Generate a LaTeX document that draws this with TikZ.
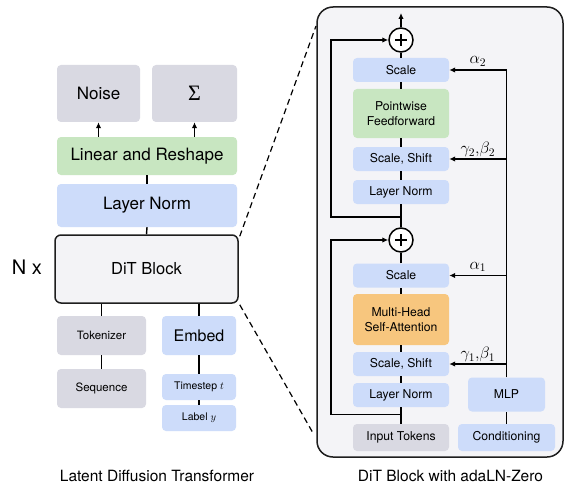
\RequirePackage{fix-cm}
\documentclass[tikz,border=0pt]{standalone}
\usepackage{fontspec}
\setmainfont{TeX Gyre Heros}
\newfontfamily\sigmafont{Liberation Serif}
\usetikzlibrary{arrows.meta}
\definecolor{cblue}{RGB}{205,220,250}
\definecolor{cgray}{RGB}{217,217,226}
\definecolor{cgreen}{RGB}{200,230,193}
\definecolor{corange}{RGB}{247,198,126}
\definecolor{cpanel}{RGB}{244,244,247}
\definecolor{cdit}{RGB}{243,243,246}
\definecolor{cedge}{RGB}{30,30,30}
\begin{document}
\begin{tikzpicture}[x=1pt,y=-1pt,
  box/.style={rounded corners=4pt, inner sep=0pt, align=center},
  bluebox/.style={box, fill=cblue},
  graybox/.style={box, fill=cgray},
  greenbox/.style={box, fill=cgreen},
  orangebox/.style={box, fill=corange},
  ditbox/.style={box, rounded corners=6pt, fill=cdit, draw=cedge, line width=1.5pt},
  bigfont/.style={font=\fontsize{17}{20}\selectfont},
  midfont/.style={font=\fontsize{11.5}{14}\selectfont},
  smallfont/.style={font=\fontsize{10.5}{12}\selectfont},
  rfont/.style={font=\fontsize{12.2}{15}\selectfont},
  capfont/.style={font=\fontsize{15.5}{18}\selectfont, inner sep=0pt},
  labfont/.style={font=\fontsize{16.5}{18}\selectfont, inner sep=1pt},
  rbox/.style={bluebox, rfont, minimum width=96pt, minimum height=24pt},
  conn/.style={line width=1.4pt, draw=black},
  rconn/.style={line width=1.6pt, draw=black},
  tip/.style={-{Latex[length=6pt,width=5.5pt]}},
  plusnode/.style={circle, draw=black, line width=1.5pt, fill=white, minimum size=24pt, inner sep=0pt,
    path picture={\draw[line width=1.5pt] ([xshift=-6pt]path picture bounding box.center) -- ([xshift=6pt]path picture bounding box.center);
                  \draw[line width=1.5pt] ([yshift=-6pt]path picture bounding box.center) -- ([yshift=6pt]path picture bounding box.center);}},
  dashline/.style={line width=1.2pt, dash pattern=on 6pt off 4pt}
]
\useasboundingbox (0,0) rectangle (567,484);
\fill[white] (0,0) rectangle (567,484);

% ---------- left: latent diffusion transformer ----------
\node[graybox, bigfont, minimum width=83pt, minimum height=57pt] (noise) at (98.5,93.5) {Noise};
\node[graybox, font=\fontsize{22}{24}\sigmafont, minimum width=85pt, minimum height=57pt] (sigma) at (194.5,93.5) {Σ};
\node[greenbox, bigfont, minimum width=180pt, minimum height=38pt] (linear) at (147,156) {Linear and Reshape};
\node[bluebox, bigfont, minimum width=180pt, minimum height=43pt] (lnL) at (147,205.5) {Layer Norm};
\node[ditbox, font=\fontsize{16.5}{19}\selectfont, minimum width=183pt, minimum height=68pt] (dit) at (146.5,269) {DiT Block};
\node[font=\fontsize{20}{23}\selectfont] (nx) at (27,267) {N x};
\node[graybox, midfont, minimum width=89pt, minimum height=39pt] (tok) at (101.5,335.5) {Tokenizer};
\node[graybox, midfont, minimum width=89pt, minimum height=39pt] (seq) at (101.5,388.5) {Sequence};
\node[bluebox, font=\fontsize{16}{19}\selectfont, minimum width=74pt, minimum height=39pt] (embed) at (199,335.5) {Embed};
\node[bluebox, smallfont, minimum width=74pt, minimum height=26pt] (ts) at (199,387) {Timestep $t$};
\node[bluebox, smallfont, minimum width=74pt, minimum height=26pt] (lab) at (199,418) {Label $y$};

\draw[conn, tip] (linear.north -| noise) -- (noise.south);
\draw[conn, tip] (linear.north -| sigma) -- (sigma.south);
\draw[conn] (linear.south) -- (lnL.north);
\draw[conn] (lnL.south) -- (dit.north);
\draw[conn] (tok.north) -- (tok.north |- dit.south);
\draw[conn] (tok.south) -- (seq.north);
\draw[conn] (embed.north) -- (embed.north |- dit.south);
\draw[conn] (embed.south) -- (ts.north);
\draw[conn] (ts.south) -- (lab.north);

\node[capfont, anchor=base] (capL) at (157,481) {Latent Diffusion Transformer};

% ---------- right: DiT block panel ----------
\node[draw=cedge, fill=cpanel, line width=1.5pt, rounded corners=16pt, minimum width=246pt, minimum height=450pt, inner sep=0pt] (panel) at (440,232) {};

\coordinate (dtop) at (316,26);
\coordinate (dbot) at (313,433);
\draw[dashline] ([shift={(1pt,-2pt)}]dit.north east) -- (dtop);
\draw[dashline] ([shift={(1pt,-1pt)}]dit.south east) -- (dbot);

\node[plusnode] (plus2) at (401,40) {};
\node[rbox] (scale2) at (401,70) {Scale};
\node[greenbox, rfont, minimum width=96pt, minimum height=49pt] (ff) at (401,113.5) {Pointwise\\Feedforward};
\node[rbox] (ss2) at (401,159) {Scale, Shift};
\node[rbox] (ln2) at (401,192) {Layer Norm};
\node[plusnode] (plus1) at (401,240) {};
\node[rbox] (scale1) at (401,275.5) {Scale};
\node[orangebox, rfont, minimum width=96pt, minimum height=51pt] (mhsa) at (401,319.5) {Multi-Head\\Self-Attention};
\node[rbox] (ss1) at (401,364) {Scale, Shift};
\node[rbox] (ln1) at (401,395) {Layer Norm};
\node[graybox, rfont, minimum width=96pt, minimum height=27pt] (inp) at (401,437.5) {Input Tokens};
\node[bluebox, rfont, minimum width=97pt, minimum height=27pt] (cond) at (506.5,437.5) {Conditioning};
\node[bluebox, rfont, minimum width=77pt, minimum height=34pt] (mlp) at (506.5,394.5) {MLP};

\coordinate (top) at (401,13);
\draw[rconn] (inp.north) -- (ln1.south);
\draw[rconn] (ln1.north) -- (ss1.south);
\draw[rconn] (ss1.north) -- (mhsa.south);
\draw[rconn] (mhsa.north) -- (scale1.south);
\draw[rconn] (scale1.north) -- (plus1.south);
\draw[rconn] (plus1.north) -- (ln2.south);
\draw[rconn] (ln2.north) -- (ss2.south);
\draw[rconn] (ss2.north) -- (ff.south);
\draw[rconn] (ff.north) -- (scale2.south);
\draw[rconn] (scale2.north) -- (plus2.south);
\draw[rconn, tip] (plus2.north) -- (top);

\coordinate (b1) at (401,414.5);
\coordinate (l1) at (331,414.5);
\draw[rconn, tip] (b1) -- (l1) -- (l1 |- plus1) -- (plus1.west);
\coordinate (b2) at (401,217);
\coordinate (l2) at (331,217);
\draw[rconn, tip] (b2) -- (l2) -- (l2 |- plus2) -- (plus2.west);

\draw[rconn] (cond.north) -- (mlp.south);
\draw[rconn] (mlp.north) -- (mlp.north |- scale2.east);
\draw[rconn, tip] (mlp.north |- scale2.east) -- (scale2.east) node[midway, above=2pt, labfont] (a2) {$\alpha_2$};
\draw[rconn, tip] (mlp.north |- ss2.east) -- (ss2.east) node[midway, above=0pt, labfont] (g2) {$\gamma_2{,}\beta_2$};
\draw[rconn, tip] (mlp.north |- scale1.east) -- (scale1.east) node[midway, above=2pt, labfont] (a1) {$\alpha_1$};
\draw[rconn, tip] (mlp.north |- ss1.east) -- (ss1.east) node[midway, above=0pt, labfont] (g1) {$\gamma_1{,}\beta_1$};

\node[capfont, anchor=base] (capR) at (450.5,481) {DiT Block with adaLN-Zero};
\end{tikzpicture}
\end{document}
